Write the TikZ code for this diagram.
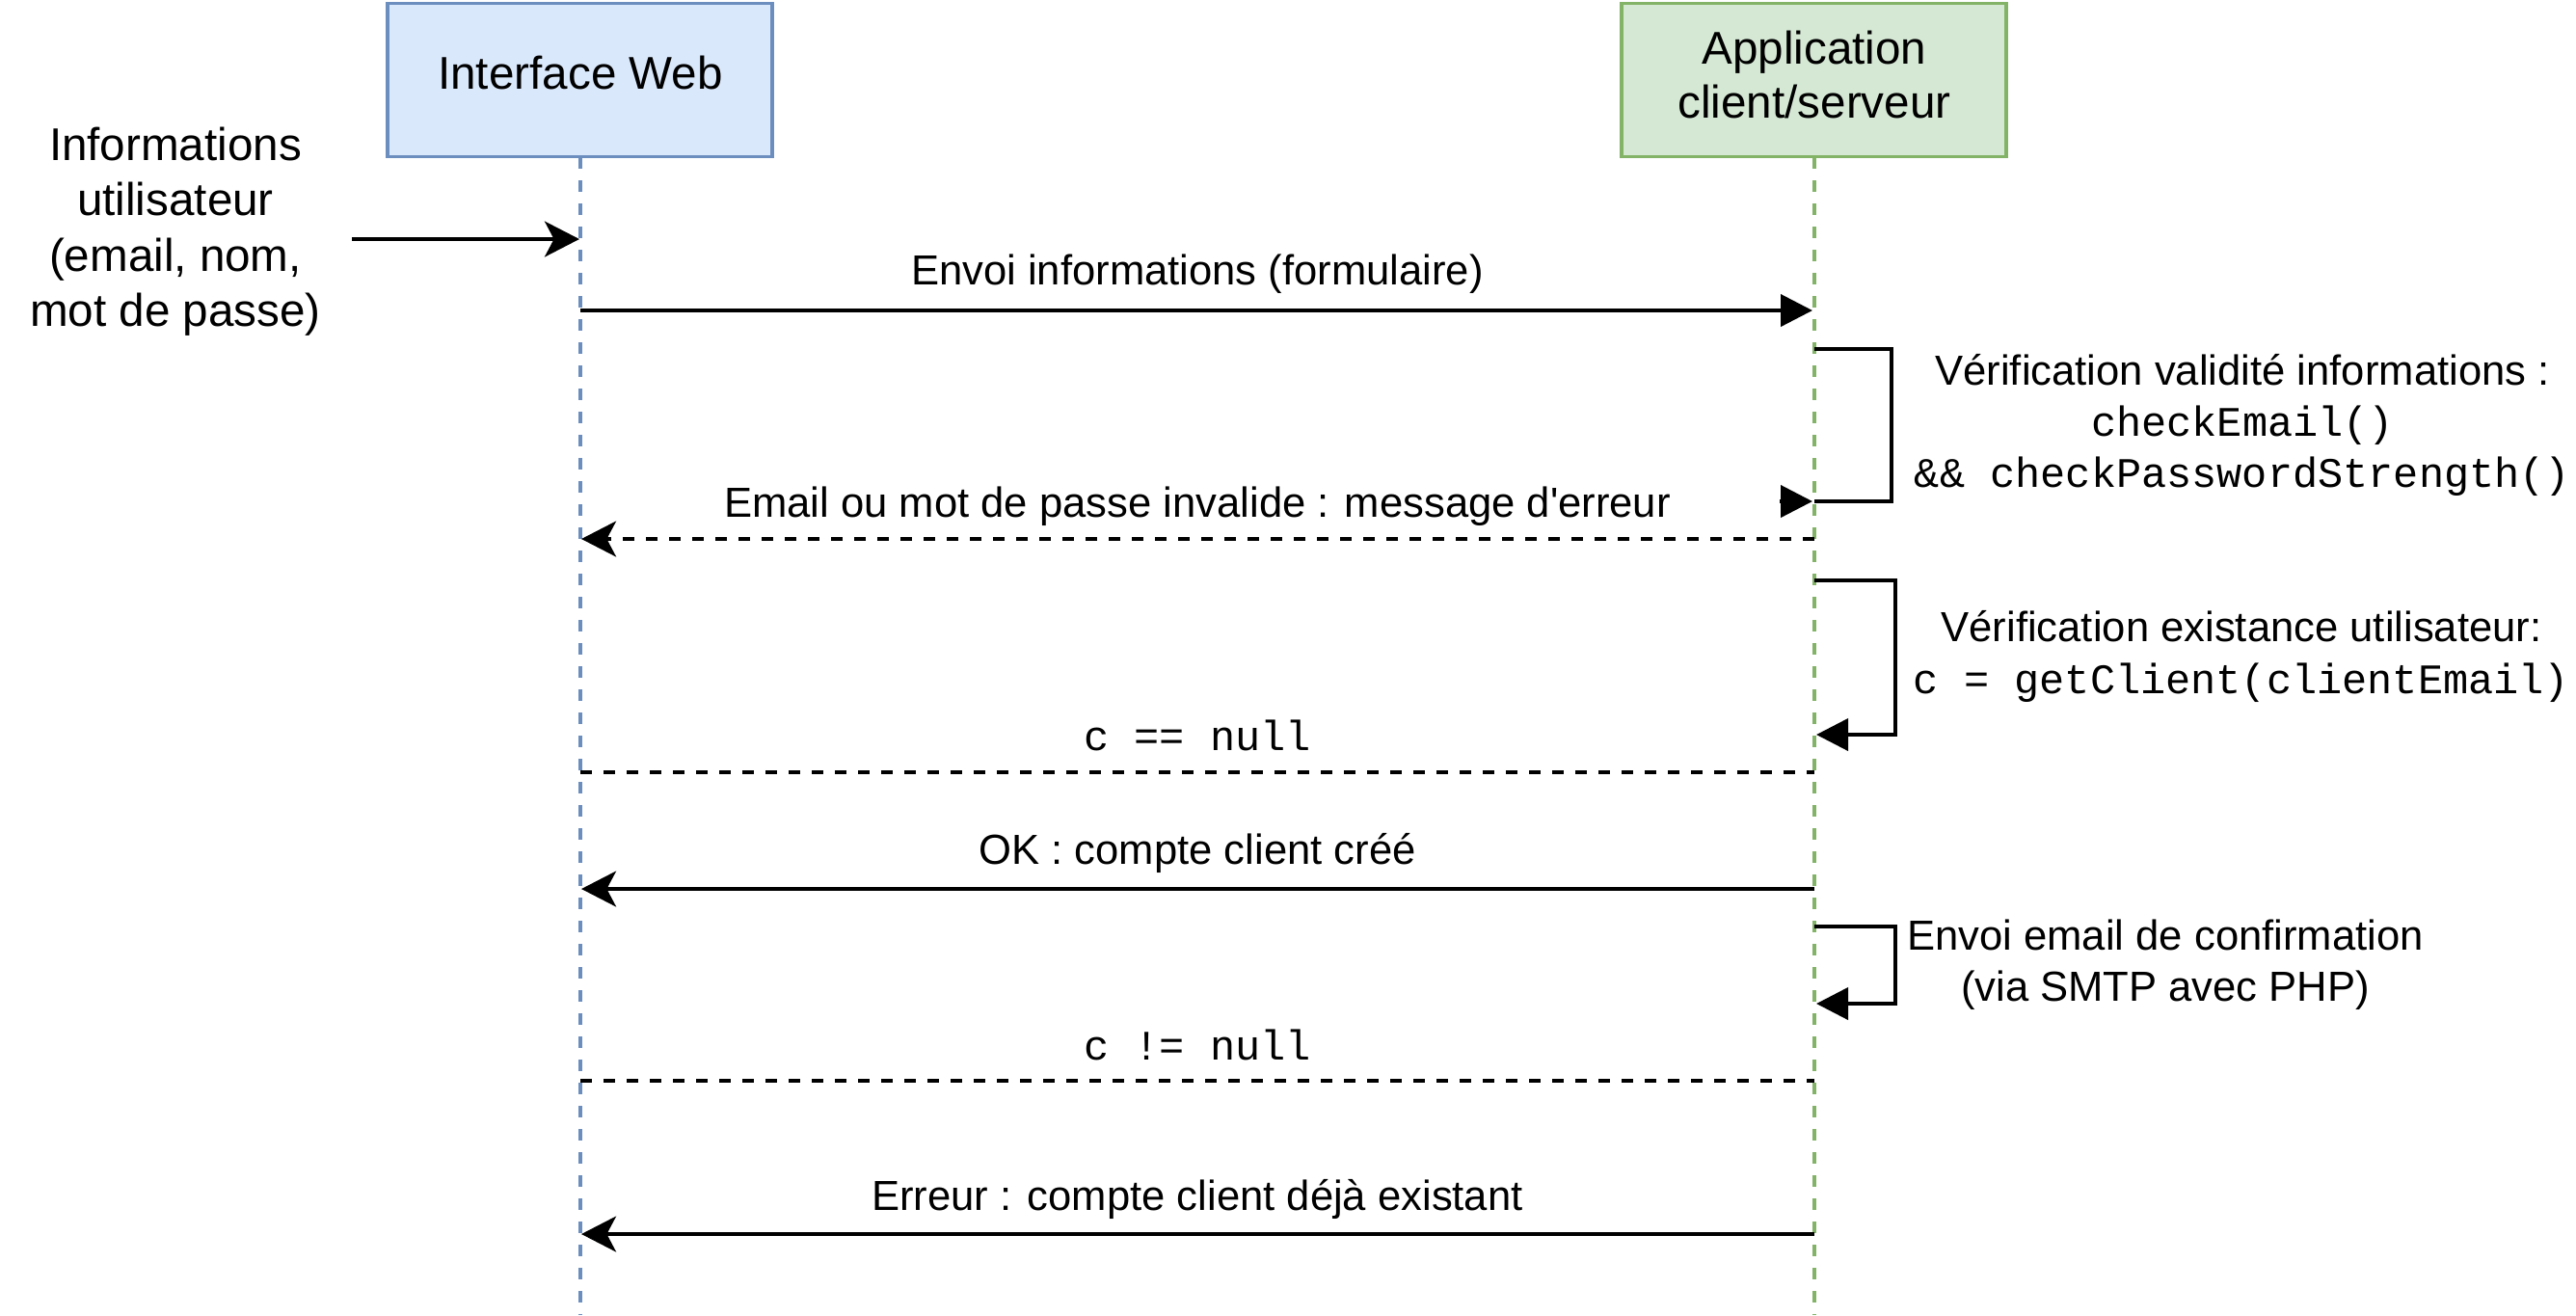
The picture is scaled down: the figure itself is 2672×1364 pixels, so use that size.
\documentclass[tikz,border=0pt]{standalone}
\usepackage{fontspec}
\setmainfont{Liberation Sans}[Ligatures=TeXOff]
\setmonofont{Liberation Mono}
\usetikzlibrary{arrows.meta}
\definecolor{bluefill}{HTML}{DAE8FC}
\definecolor{bluedraw}{HTML}{6C8EBF}
\definecolor{greenfill}{HTML}{D5E8D4}
\definecolor{greendraw}{HTML}{82B366}
\tikzset{
  actorbox/.style={draw, line width=0.9pt, minimum width=99.75pt, minimum height=39.75pt, inner sep=0pt},
  txt/.style={inner sep=0pt, align=center, font=\fontsize{10.9}{14.2}\selectfont},
  txtbig/.style={inner sep=0pt, align=center, font=\fontsize{11.9}{14.2}\selectfont},
  txtr/.style={inner sep=0pt, align=center, font=\fontsize{10.9}{13.3}\selectfont},
  lifeline/.style={line width=1pt, dash pattern=on 3pt off 3pt},
  msg/.style={line width=1pt},
  retmsg/.style={line width=1pt, dash pattern=on 3pt off 3pt},
  blockarrow/.style={-{Triangle[length=8.25pt,width=8.25pt]}},
  openarrow/.style={-{Stealth[length=9pt,width=9.2pt,inset=2.4pt]}},
}
\begin{document}
\begin{tikzpicture}[x=0.25pt,y=-0.25pt]
\useasboundingbox (0,0) rectangle (2672,1364);
% actors
\node[actorbox, draw=bluedraw, fill=bluefill] (boxIW) at (601.5,83) {};
\node[actorbox, draw=greendraw, fill=greenfill] (boxApp) at (1881.5,83) {};
\node[txtbig] (tIW) at (602,75) {Interface Web};
\node[txtbig, font=\fontsize{11.9}{14}\selectfont] (tApp) at (1882,77) {Application\\client/serveur};
% lifelines
\coordinate (llIWtop) at (602,163);
\coordinate (llIWend) at (602,1364);
\coordinate (llAtop) at (1882,163);
\coordinate (llAend) at (1882,1364);
\draw[lifeline, draw=bluedraw] (llIWtop) -- (llIWend);
\draw[lifeline, draw=greendraw] (llAtop) -- (llAend);
% input
\node[txtbig, font=\fontsize{11.9}{14.35}\selectfont] (tInfo) at (182,240) {Informations\\utilisateur\\(email, nom,\\mot de passe)};
\coordinate (inS) at (365,248);
\coordinate (inE) at (601,248);
\draw[msg, openarrow] (inS) -- (inE);
% envoi
\coordinate (m1s) at (602,322);
\coordinate (m1e) at (1880,322);
\draw[msg, blockarrow] (m1s) -- (m1e);
\node[txt] (tm1) at (1242,284) {Envoi informations (formulaire)};
% loop 1
\coordinate (l1a) at (1882,362);
\coordinate (l1b) at (1882,520);
\coordinate (l1t) at (1846,520);
\coordinate (l1tip) at (1880,520);
\draw[msg] (l1a) -- (1962,362) -- (1962,520) -- (l1b);
\draw[msg, blockarrow] (l1t) -- (l1tip);
\node[txtr] (tl1) at (2326,441) {Vérification validité informations :\\\texttt{checkEmail()}\\\texttt{\&\& checkPasswordStrength()}};
% error return
\coordinate (r1s) at (1882,559);
\coordinate (r1e) at (603,559);
\draw[retmsg, openarrow] (r1s) -- (r1e);
\node[txt] (tr1) at (1242,525) {Email ou mot de passe invalide : message d'erreur};
% loop 2
\coordinate (l2a) at (1882,602);
\coordinate (l2b) at (1884,762);
\draw[msg, blockarrow] (l2a) -- (1966,602) -- (1966,762) -- (l2b);
\node[txtr] (tl2) at (2325,681) {Vérification existance utilisateur:\\\texttt{c = getClient(clientEmail)}};
% c == null
\node[txt] (tc1) at (1242,763) {\texttt{c == null}};
\coordinate (d1s) at (602,801);
\coordinate (d1e) at (1882,801);
\draw[retmsg] (d1s) -- (d1e);
% OK
\coordinate (r2s) at (1882,922);
\coordinate (r2e) at (603,922);
\draw[msg, openarrow] (r2s) -- (r2e);
\node[txt] (tr2) at (1242,885) {OK : compte client créé};
% loop 3
\coordinate (l3a) at (1882,961);
\coordinate (l3b) at (1884,1041);
\draw[msg, blockarrow] (l3a) -- (1966,961) -- (1966,1041) -- (l3b);
\node[txtr] (tl3) at (2246,1001) {Envoi email de confirmation\\(via SMTP avec PHP)};
% c != null
\node[txt] (tc2) at (1242,1084) {\texttt{c != null}};
\coordinate (d2s) at (602,1121);
\coordinate (d2e) at (1882,1121);
\draw[retmsg] (d2s) -- (d2e);
% Erreur
\coordinate (r3s) at (1882,1280);
\coordinate (r3e) at (603,1280);
\draw[msg, openarrow] (r3s) -- (r3e);
\node[txt] (tr3) at (1242,1244) {Erreur : compte client déjà existant};
\end{tikzpicture}
\end{document}
